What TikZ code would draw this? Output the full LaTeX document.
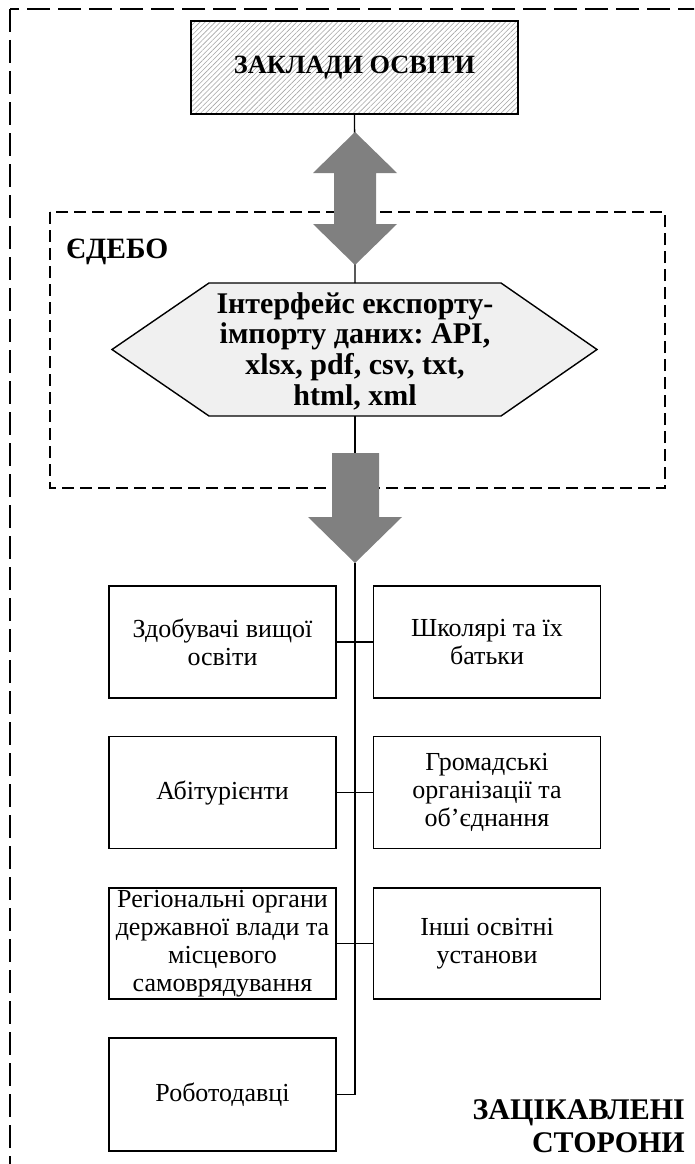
\documentclass[tikz,border=0pt]{standalone}
\usepackage{fontspec}
\setmainfont{Liberation Serif}
\usetikzlibrary{patterns.meta}
\definecolor{arrowgray}{RGB}{128,128,128}
\definecolor{hexgray}{RGB}{240,240,240}
\tikzset{
  hatchbox/.style={draw=black, line width=1.5pt,
    pattern={Lines[angle=45,distance=3.6pt,line width=0.6pt]}, pattern color=black!35,
    minimum width=327pt, minimum height=93pt, inner sep=0pt,
    font=\bfseries\fontsize{26.3}{28}\selectfont},
  hexshape/.style={draw=black, line width=1.4pt, fill=hexgray},
  hextext/.style={inner sep=0pt, align=center, font=\bfseries\fontsize{30}{30.7}\selectfont},
  bigarrow/.style={fill=arrowgray, draw=none},
  leafbox/.style={draw=black, line width=1.5pt, minimum width=227pt, minimum height=112pt,
    inner sep=0pt, align=center, font=\fontsize{26}{28}\selectfont},
  conn/.style={draw=black, line width=1.4pt},
  trunkthick/.style={draw=black, line width=2.8pt},
  outerdash/.style={draw=black, line width=2pt, dash pattern=on 23pt off 8pt},
  innerdash/.style={draw=black, line width=1.3pt, dash pattern=on 12pt off 6pt},
  title/.style={inner sep=0pt, font=\bfseries\fontsize{29.5}{30}\selectfont},
}
\begin{document}
\frenchspacing
\begin{tikzpicture}[x=1pt, y=-1pt]
\useasboundingbox (0,0) rectangle (694,1164);
\clip (0,0) rectangle (694,1164);
\fill[white] (0,0) rectangle (694,1164);
% outer dashed frame (runs past the right and bottom edges)
\draw[outerdash] (10,9) rectangle (730,1200);
% top institution box
\node[hatchbox] (inst) at (354.5,67.5) {\raisebox{-2pt}{ЗАКЛАДИ ОСВІТИ}};
% EDEBO dashed box
\draw[innerdash] (50,212) rectangle (665,488);
\node[title, anchor=west] (edebo) at (66,252) {ЄДЕБО};
% hexagon
\coordinate (hexT) at (355,283);
\coordinate (hexB) at (355,416);
\draw[hexshape] (209,283) -- (501,283) -- (597,349.5) -- (501,416) -- (209,416) -- (112,349.5) -- cycle;
\node[hextext] (api) at (355,351) {Інтерфейс експорту-\\імпорту даних: API,\\xlsx, pdf, csv, txt,\\html, xml};
% connectors through the arrows
\draw[conn] (inst.south) -- (hexT);
\coordinate (downTop) at (355,453);
\draw[conn] (hexB) -- (downTop);
% double arrow
\fill[bigarrow] (355,132) -- (397,173) -- (376,173) -- (376,224) -- (397,224) -- (355,265)
  -- (313,224) -- (334,224) -- (334,173) -- (313,173) -- cycle;
% down arrow
\coordinate (tip) at (355,563);
\fill[bigarrow] (332,453) -- (379,453) -- (379,517) -- (402,517) -- (tip) -- (308,517) -- (332,517) -- cycle;
% leaf boxes
\node[leafbox] (zdob) at (222.5,642) {Здобувачі вищої\\освіти};
\node[leafbox] (shkol) at (487,642) {Школярі та їх\\батьки};
\node[leafbox] (abit) at (222.5,792.5) {Абітурієнти};
\node[leafbox] (hrom) at (487,792.5) {Громадські\\організації та\\об’єднання};
\node[leafbox, minimum height=111pt] (rehion) at (222.5,943.5) {Регіональні органи\\державної влади та\\місцевого\\самоврядування};
\node[leafbox, minimum height=111pt] (inshi) at (487,943.5) {Інші освітні\\установи};
\node[leafbox, minimum height=113pt] (robot) at (222.5,1094.5) {Роботодавці};
% trunk
\coordinate (mid3) at (355,943.5);
\coordinate (corner) at (355,1094.5);
\draw[trunkthick] (tip) -- (mid3);
\draw[conn, line width=1.8pt] (mid3) -- (corner);
\draw[conn] (robot.east) -- (corner);
\draw[conn] (zdob.east) -- (shkol.west);
\draw[conn] (abit.east) -- (hrom.west);
\draw[conn] (rehion.east) -- (inshi.west);
% stakeholders label
\node[inner sep=0pt, anchor=east, align=right, font=\bfseries\fontsize{30}{33}\selectfont] (stake) at (685,1126) {ЗАЦІКАВЛЕНІ\\СТОРОНИ};
\end{tikzpicture}
\end{document}
